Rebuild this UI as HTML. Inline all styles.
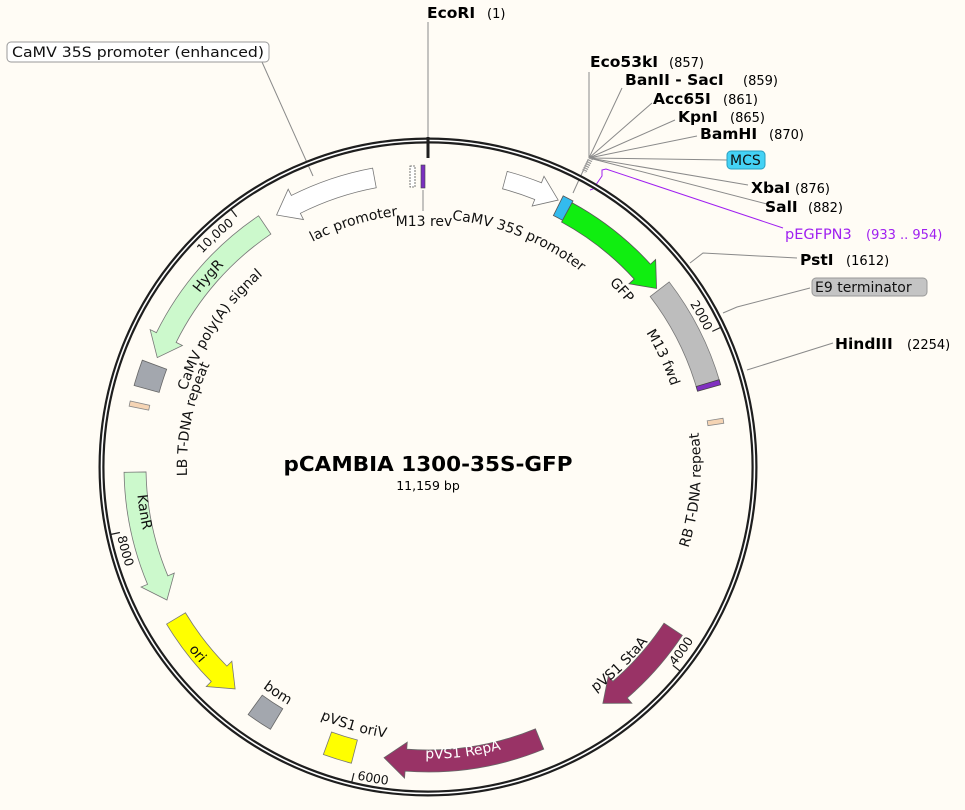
<!DOCTYPE html>
<html><head><meta charset="utf-8"><style>
html,body{margin:0;padding:0;background:#fffcf5;}
svg{display:block;font-family:"DejaVu Sans","Liberation Sans",sans-serif;}
.b{font-weight:bold;font-size:15.5px;fill:#000}
.n{font-size:13px;fill:#000}
.l{font-size:14px;fill:#111}
.t{font-size:12.5px;fill:#111}
</style></head><body>
<svg id="s" width="965" height="810" viewBox="0 0 965 810" xmlns="http://www.w3.org/2000/svg">
<rect width="965" height="810" fill="#fffcf5"/>
<defs>
<path id="pl1"/><path id="pl2"/><path id="pl3"/><path id="pl4"/><path id="pl5"/><path id="pl6"/><path id="pl7"/><path id="pl8"/><path id="pl9"/><path id="pl10"/><path id="pl11"/><path id="pl12"/><path id="pl13"/><path id="pl14"/><path id="pl15"/><path id="pl16"/><path id="pl17"/><path id="pl18"/><path id="pl19"/>
</defs>
<g stroke="#8a8a8a" stroke-width="1" fill="none">
<line x1="428" y1="22" x2="428" y2="140"/>
<line x1="262" y1="62" x2="313" y2="176"/>
<line x1="573" y1="193" x2="588" y2="160"/>
<line x1="589" y1="158" x2="589" y2="72"/>
<line x1="589" y1="158" x2="622" y2="88"/>
<line x1="589" y1="158" x2="652" y2="103"/>
<line x1="589" y1="158" x2="675" y2="120"/>
<line x1="589" y1="158" x2="697" y2="136"/>
<line x1="589" y1="158" x2="727" y2="160"/>
<line x1="589" y1="158" x2="748" y2="185"/>
<line x1="589" y1="158" x2="767" y2="204"/>
<polyline points="690,263 703,253 797,258"/>
<polyline points="723,313 737,307 810,288"/>
<polyline points="747,370 833,343"/>
<line x1="423" y1="190" x2="423" y2="211"/>
</g>
<line x1="591" y1="158" x2="584" y2="172" stroke="#999" stroke-width="5" stroke-dasharray="1.2 1"/>
<path d="M590,190 L593,189 L602,176 L602,170 L606,169 L783,228" stroke="#a020f0" stroke-width="1" fill="none"/>
<circle cx="428" cy="467" r="326.5" fill="none" stroke="#1e1e1e" stroke-width="6"/>
<circle cx="428" cy="467" r="326.5" fill="none" stroke="#fff" stroke-width="1.6"/>
<line x1="428" y1="137" x2="428" y2="158" stroke="#1e1e1e" stroke-width="3"/>
<g id="feat"></g>
<rect x="421" y="165" width="4" height="23" fill="#7a30c0" stroke="#444" stroke-width="0.6"/>
<rect x="410" y="166" width="5" height="21" fill="#fff" stroke="#555" stroke-width="0.8" stroke-dasharray="2 1"/>
<text x="428" y="471" text-anchor="middle" font-weight="bold" font-size="20" textLength="289" lengthAdjust="spacingAndGlyphs">pCAMBIA 1300-35S-GFP</text>
<text x="428" y="490" text-anchor="middle" font-size="12.5">11,159 bp</text>
<rect x="7" y="42" width="262" height="20" rx="4" fill="#fff" stroke="#999"/>
<text x="12" y="57" class="l" textLength="252" lengthAdjust="spacingAndGlyphs">CaMV 35S promoter (enhanced)</text>
<text x="427" y="18" class="b">EcoRI</text><text x="487" y="18" class="n">(1)</text>
<text x="590" y="67" class="b">Eco53kI</text><text x="669" y="67" class="n">(857)</text>
<text x="625" y="85" class="b">BanII - SacI</text><text x="743" y="85" class="n">(859)</text>
<text x="653" y="104" class="b">Acc65I</text><text x="723" y="104" class="n">(861)</text>
<text x="678" y="122" class="b">KpnI</text><text x="730" y="122" class="n">(865)</text>
<text x="700" y="139" class="b">BamHI</text><text x="769" y="139" class="n">(870)</text>
<rect x="727" y="151" width="38" height="18" rx="4" fill="#44d2f5" stroke="#2a9fc0"/>
<text x="730" y="165" class="l">MCS</text>
<text x="751" y="193" class="b">XbaI</text><text x="795" y="193" class="n">(876)</text>
<text x="765" y="212" class="b">SalI</text><text x="808" y="212" class="n">(882)</text>
<text x="785" y="239" font-size="14.5" fill="#a020f0">pEGFPN3</text><text x="866" y="239" font-size="13" fill="#a020f0">(933 .. 954)</text>
<text x="800" y="265" class="b">PstI</text><text x="846" y="265" class="n">(1612)</text>
<rect x="812" y="278" width="115" height="18" rx="4" fill="#c4c4c4" stroke="#999"/>
<text x="815" y="292" class="l" font-size="14.5">E9 terminator</text>
<text x="835" y="349" class="b">HindIII</text><text x="907" y="349" class="n">(2254)</text>
<text x="424" y="226" class="l" text-anchor="middle">M13 rev</text>
<g class="l" text-anchor="middle">
<text><textPath href="#pl1" startOffset="50%">lac promoter</textPath></text>
<text><textPath href="#pl2" startOffset="50%">CaMV 35S promoter</textPath></text>
<text><textPath href="#pl3" startOffset="50%">GFP</textPath></text>
<text><textPath href="#pl4" startOffset="50%">M13 fwd</textPath></text>
<text><textPath href="#pl5" startOffset="50%">RB T-DNA repeat</textPath></text>
<text><textPath href="#pl6" startOffset="50%">HygR</textPath></text>
<text><textPath href="#pl7" startOffset="50%">CaMV poly(A) signal</textPath></text>
<text><textPath href="#pl8" startOffset="50%">LB T-DNA repeat</textPath></text>
<text><textPath href="#pl9" startOffset="50%">KanR</textPath></text>
<text><textPath href="#pl10" startOffset="50%">ori</textPath></text>
<text><textPath href="#pl11" startOffset="50%">bom</textPath></text>
<text><textPath href="#pl12" startOffset="50%">pVS1 oriV</textPath></text>
<text style="fill:#fff"><textPath href="#pl13" startOffset="50%">pVS1 RepA</textPath></text>
<text><textPath href="#pl14" startOffset="50%">pVS1 StaA</textPath></text>
</g>
<g class="t" text-anchor="middle">
<text><textPath href="#pl15" startOffset="50%">2000</textPath></text>
<text><textPath href="#pl16" startOffset="50%">4000</textPath></text>
<text><textPath href="#pl17" startOffset="50%">6000</textPath></text>
<text><textPath href="#pl18" startOffset="50%">8000</textPath></text>
<text><textPath href="#pl19" startOffset="50%">10,000</textPath></text>
</g>
<g id="ticks" stroke="#1e1e1e" stroke-width="1.2"></g>
</svg>
<script>
const cx=428,cy=467,NS="http://www.w3.org/2000/svg";
function P(a,r){const t=a*Math.PI/180;return (cx+r*Math.sin(t)).toFixed(2)+","+(cy-r*Math.cos(t)).toFixed(2);}
function arc(a1,a2,r){const large=Math.abs(a2-a1)>180?1:0,sw=a2>a1?1:0;return "A"+r+","+r+" 0 "+large+" "+sw+" "+P(a2,r);}
const fg=document.getElementById("feat");
function feat(a1,a2,rc,w,fill,stroke,head){
 const rO=rc+w/2,rI=rc-w/2,dir=a2>a1?1:-1;let d;
 if(head){const hw=w/2+7,hd=22/rc*180/Math.PI,ah=a2-dir*hd;
  d="M"+P(a1,rO)+" "+arc(a1,ah,rO)+" L"+P(ah,rc+hw)+" L"+P(a2,rc)+" L"+P(ah,rc-hw)+" L"+P(ah,rI)+" "+arc(ah,a1,rI)+" Z";}
 else d="M"+P(a1,rO)+" "+arc(a1,a2,rO)+" L"+P(a2,rI)+" "+arc(a2,a1,rI)+" Z";
 const p=document.createElementNS(NS,"path");p.setAttribute("d",d);p.setAttribute("fill",fill);p.setAttribute("stroke",stroke);p.setAttribute("stroke-width","0.8");fg.appendChild(p);}
feat(-10.5,-31,294,20,"#ffffff","#777",1);
feat(15,26,297,18,"#ffffff","#777",1);
feat(26.5,28.6,292,22,"#33bbee","#555",0);
feat(28.6,52,290,22,"#10ee10","#555",1);
feat(52.5,74,292,24,"#bdbdbd","#777",0);
feat(73.3,74.3,292,24,"#8030c0","#444",0);
feat(80.6,81.6,291,16,"#f5d4b4","#888",0);
feat(-34,-68,292,22,"#ccf9cc","#777",1);
feat(-69.5,-74.5,292,26,"#a3a7ae","#666",0);
feat(-77.5,-78.5,295,20,"#f5d4b4","#888",0);
feat(-91,-117,293,22,"#ccf9cc","#777",1);
feat(-121,-139,294,22,"#ffff00","#777",1);
feat(-144,-149,294,24,"#a3a7ae","#666",0);
feat(-160,-165.5,294,24,"#ffff00","#777",0);
feat(157.7,188.6,294,22,"#993366","#666",1);
feat(123.5,143.5,294,22,"#993366","#666",1);
const L=[[1,-17,258,1,14],[2,21.8,253,1,14],[3,47.6,263,1,14],[4,65,261,1,14],[5,95,268,0,14],[6,-49,292,1,14],[7,-56.6,258,1,14],[8,-78.5,246,1,14],[9,-99,287,0,14],[10,-129,296,0,14],[11,-146.4,271,0,14],[12,-164,269,0,14],[13,173,287,0,14],[14,135.9,276,0,14],
[15,61,313,1,12.5],[16,126,313,0,12.5],[17,190,316,0,12.5],[18,-105.5,314,0,12.5],[19,-42.6,315,1,12.5]];
for(const [i,c,r,cw,fs] of L){const rb=cw?r-fs*0.35:r+fs*0.35;let d;
 if(cw)d="M"+P(c-180,rb)+" A"+rb+","+rb+" 0 0 1 "+P(c,rb)+" A"+rb+","+rb+" 0 0 1 "+P(c+180,rb);
 else d="M"+P(c+180,rb)+" A"+rb+","+rb+" 0 0 0 "+P(c,rb)+" A"+rb+","+rb+" 0 0 0 "+P(c-180,rb);
 document.getElementById("pl"+i).setAttribute("d",d);}
const tg=document.getElementById("ticks");
for(const a of [64.5,129,193.6,258,322.6]){const l=document.createElementNS(NS,"path");l.setAttribute("d","M"+P(a,315)+" L"+P(a,324));tg.appendChild(l);}
</script>
</body></html>
